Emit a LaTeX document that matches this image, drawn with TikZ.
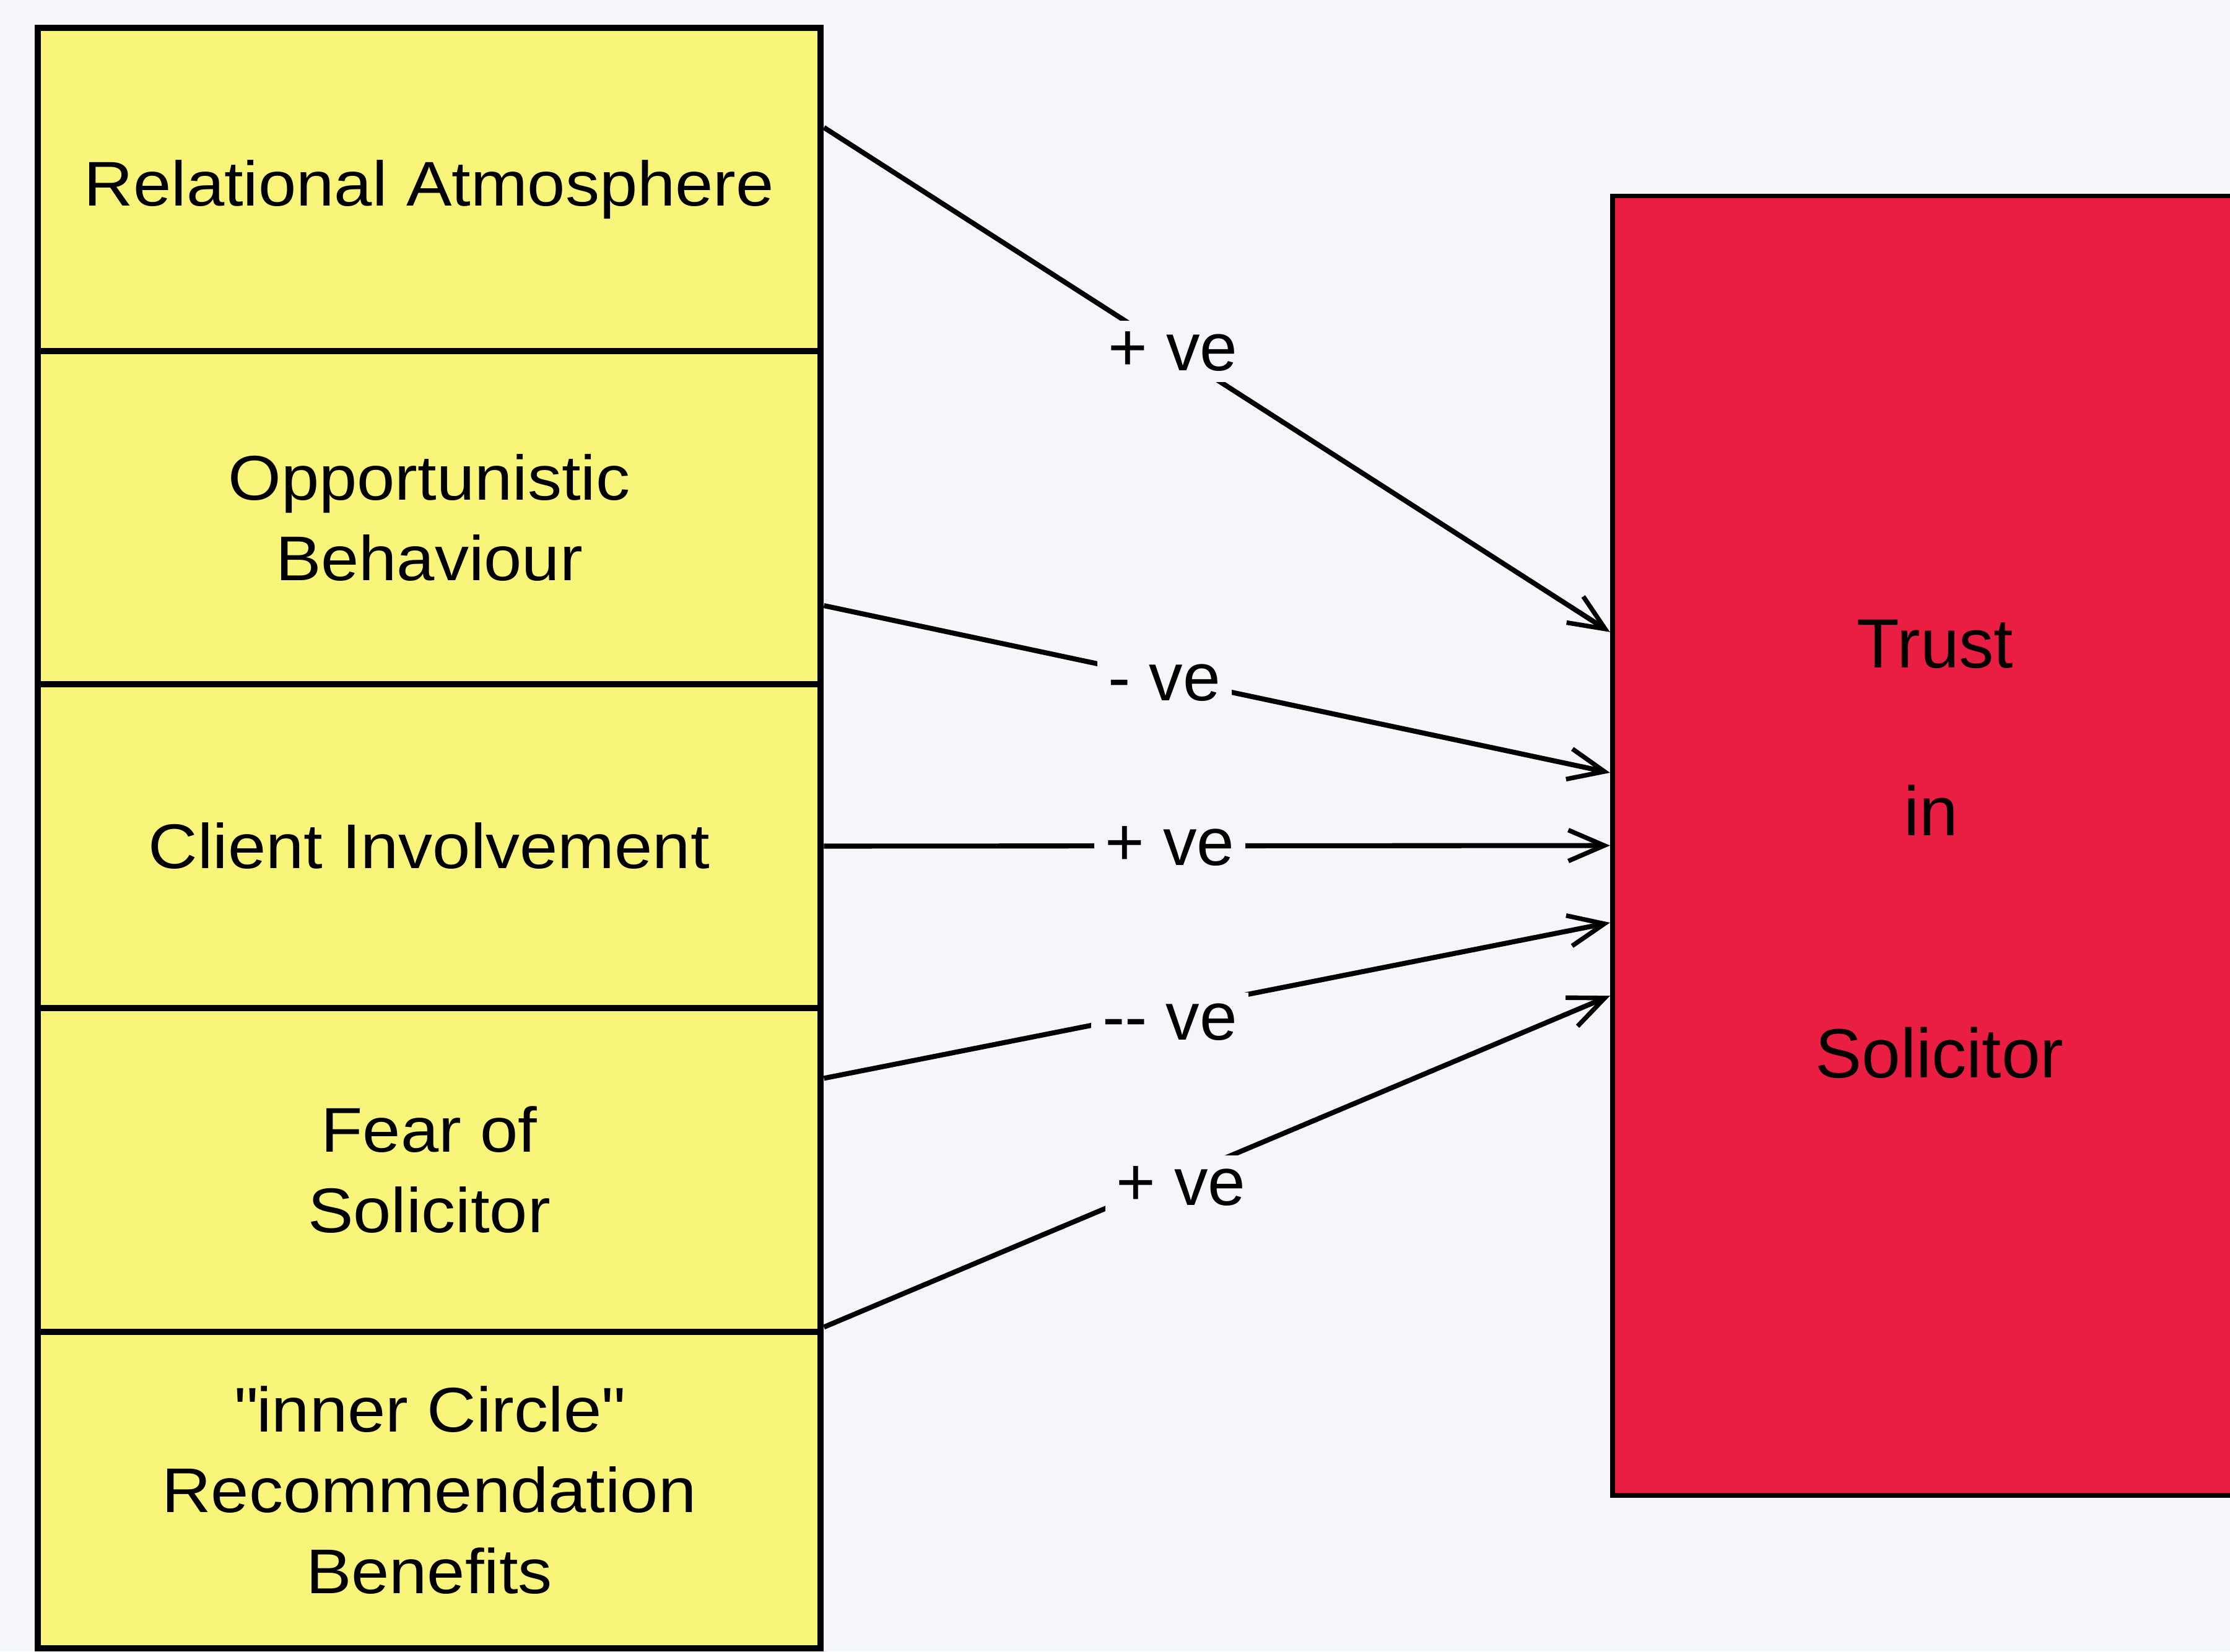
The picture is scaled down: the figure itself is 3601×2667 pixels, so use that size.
\documentclass[tikz,border=0pt]{standalone}
\usepackage{fontspec}
\setmainfont{Liberation Sans}[FakeStretch=1.08]
\newfontfamily\redfont{Liberation Sans}
\usetikzlibrary{arrows.meta}
\definecolor{bgc}{RGB}{245,246,250}
\definecolor{yel}{RGB}{248,245,122}
\definecolor{redc}{RGB}{234,30,66}
\begin{document}
\begin{tikzpicture}[x=0.01cm,y=-0.01cm,
  ybox/.style={draw=black, line width=2.9pt, fill=yel, minimum width=12.64cm, inner sep=0pt, align=center, font=\fontsize{29}{37}\selectfont},
  conn/.style={line width=2.3pt, -{Straight Barb[length=0.58cm,width=0.5cm,line width=2.1pt]}},
  lbl/.style={fill=bgc, inner sep=5pt, font=\redfont\fontsize{31}{36}\selectfont},
  rtxt/.style={font=\redfont\fontsize{32}{38}\selectfont}]
\useasboundingbox[fill=bgc] (0,0) rectangle (3601,2667);
\node[draw=black, line width=2.2pt, fill=redc, minimum width=10.16cm, minimum height=20.97cm, inner sep=0pt] (trust) at (3112,1365.5) {};
\node[rtxt] (t1) at (3125,1040) {Trust};
\node[rtxt] (t2) at (3118,1309) {in};
\node[rtxt] (t3) at (3132,1700) {Solicitor};
\node[ybox, minimum height=5.22cm] (ra) at (693,306) {Relational Atmosphere};
\node[ybox, minimum height=5.38cm] (ob) at (693,836) {Opportunistic\\Behaviour};
\node[ybox, minimum height=5.23cm] (ci) at (693,1366.5) {Client Involvement};
\node[ybox, minimum height=5.23cm] (fs) at (693,1889.5) {Fear of\\Solicitor};
\node[ybox, minimum height=5.11cm] (ic) at (693,2406.5) {\textquotedbl inner Circle\textquotedbl\\Recommendation\\Benefits};
\draw[conn] ([yshift=1cm]ra.east) -- node[lbl,pos=0.444] {+ ve} ([yshift=3.445cm]trust.west);
\draw[conn] ([yshift=-1.42cm]ob.east) -- node[lbl,pos=0.433,yshift=-0.08cm] {- ve} ([yshift=1.175cm]trust.west);
\draw[conn] (ci.east) -- node[lbl,pos=0.44] {+ ve} (trust.west);
\draw[conn] ([yshift=1.48cm]fs.east) -- node[lbl,pos=0.44,yshift=-0.2cm] {-{}- ve} ([yshift=-1.245cm]trust.west);
\draw[conn] ([yshift=0.13cm]fs.south east) -- node[lbl,pos=0.454,yshift=-0.15cm] {+ ve} ([yshift=-2.425cm]trust.west);
\end{tikzpicture}
\end{document}
